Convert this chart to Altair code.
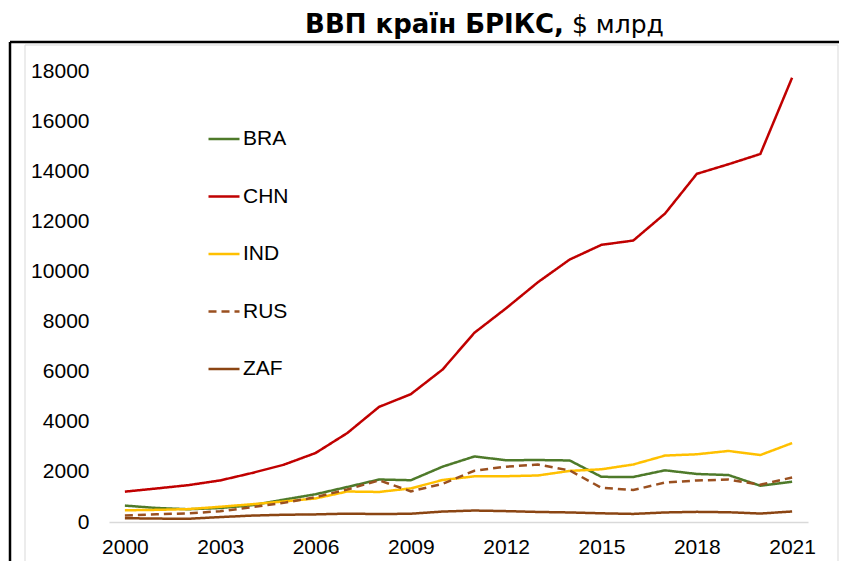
import altair as alt
import pandas as pd

years = list(range(2000, 2022))
countries = ["BRA", "CHN", "IND", "RUS", "ZAF"]
bra = [655, 559, 509, 558, 669, 892, 1108, 1397, 1696, 1667, 2209, 2616, 2465, 2473, 2456, 1802, 1797, 2063, 1917, 1873, 1448, 1609]
chn = [1211, 1339, 1471, 1660, 1955, 2286, 2752, 3550, 4594, 5102, 6087, 7552, 8532, 9570, 10476, 11062, 11233, 12310, 13895, 14280, 14688, 17734]
ind = [468, 485, 515, 608, 709, 820, 940, 1217, 1199, 1342, 1676, 1823, 1828, 1857, 2039, 2104, 2295, 2651, 2703, 2836, 2672, 3150]
rus = [260, 307, 345, 430, 591, 764, 990, 1300, 1661, 1223, 1525, 2046, 2208, 2292, 2059, 1363, 1277, 1574, 1657, 1693, 1489, 1776]
zaf = [152, 136, 129, 197, 256, 289, 304, 334, 317, 330, 417, 458, 434, 401, 381, 347, 323, 381, 405, 389, 338, 419]
colors = ["#4e7a2a", "#c00000", "#ffc000", "#9a5020", "#8b4513"]
dashes = [[1, 0], [1, 0], [1, 0], [8, 5], [1, 0]]
x_ticks = [2000, 2003, 2006, 2009, 2012, 2015, 2018, 2021]
y_ticks = list(range(0, 18001, 2000))

rows = []
for c, vals in zip(countries, [bra, chn, ind, rus, zaf]):
    for yr, v in zip(years, vals):
        rows.append({"year": yr, "country": c, "gdp": v})
df = pd.DataFrame(rows)

W, H = 699, 451
FONT = "Liberation Sans"

leg = dict(orient="none", legendX=98, legendY=51, title=None, symbolType="stroke",
           symbolSize=961, symbolStrokeWidth=2.5, labelFontSize=21, labelFont=FONT,
           labelColor="black", rowPadding=30.5, labelOffset=2, padding=0)

lines = alt.Chart(df).mark_line(strokeWidth=2.5).encode(
    x=alt.X("year:Q", scale=alt.Scale(domain=[1999.5, 2021.5], nice=False, zero=False),
            axis=alt.Axis(values=x_ticks, format="d", title=None, ticks=False, grid=False,
                          labelFontSize=21, labelFont=FONT, labelColor="black",
                          domainColor="#d9d9d9", domainWidth=1.5, labelPadding=14)),
    y=alt.Y("gdp:Q", scale=alt.Scale(domain=[0, 18000], nice=False),
            axis=alt.Axis(values=y_ticks, format="d", title=None, ticks=False, domain=False, grid=False,
                          labelFontSize=21, labelFont=FONT, labelColor="black", labelPadding=20)),
    color=alt.Color("country:N", scale=alt.Scale(domain=countries, range=colors), legend=alt.Legend(**leg)),
    strokeDash=alt.StrokeDash("country:N", scale=alt.Scale(domain=countries, range=dashes), legend=alt.Legend(**leg)),
)

one = pd.DataFrame({"a": [0]})
frame_grey = alt.Chart(one).mark_rect(fill=None, stroke="#d9d9d9", strokeWidth=1).encode(
    x=alt.value(-84), x2=alt.value(729), y=alt.value(-26), y2=alt.value(520))
black_top = alt.Chart(one).mark_rule(color="black", strokeWidth=2.5).encode(
    x=alt.value(-99), x2=alt.value(740), y=alt.value(-29))
black_left = alt.Chart(one).mark_rule(color="black", strokeWidth=2.5).encode(
    x=alt.value(-99), y=alt.value(-29), y2=alt.value(520))
title_bold = alt.Chart(one).mark_text(text="ВВП країн БРІКС,", font="DejaVu Sans", fontWeight="bold",
                                      fontSize=26, align="right", baseline="alphabetic", color="black").encode(
    x=alt.value(455), y=alt.value(-38))
title_reg = alt.Chart(one).mark_text(text="$ млрд", font="DejaVu Sans", fontSize=25,
                                     align="left", baseline="alphabetic", color="black").encode(
    x=alt.value(463), y=alt.value(-38))

chart = alt.layer(frame_grey, black_top, black_left, lines, title_bold, title_reg).properties(
    width=W, height=H,
    autosize=alt.AutoSizeParams(type="none"),
    padding={"left": 101, "top": 63, "right": 31, "bottom": 39},
).configure_view(stroke=None)

chart.save("out.html", embed_options={"renderer": "svg", "actions": False})
